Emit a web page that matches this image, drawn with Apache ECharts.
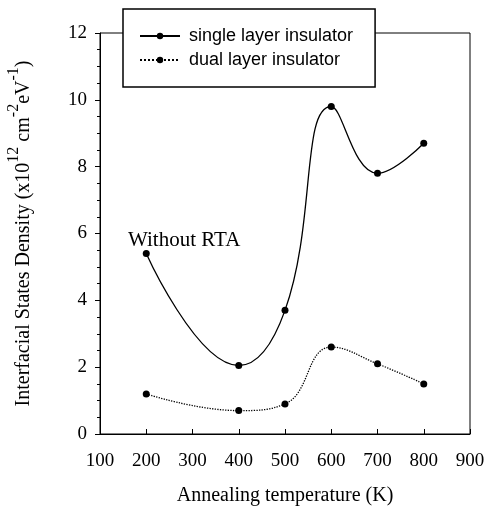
<!DOCTYPE html>
<html>
<head>
<meta charset="utf-8">
<script src="https://cdn.jsdelivr.net/npm/echarts@6/dist/echarts.min.js"></script>
<style>html,body{margin:0;padding:0;background:#fff}#c{width:487px;height:518px}</style>
</head>
<body>
<div id="c"></div>
<script>
const temperatures = [200, 400, 500, 600, 700, 800];
const singleLayer = [5.4, 2.05, 3.7, 9.8, 7.8, 8.7];
const dualLayer = [1.2, 0.7, 0.9, 2.6, 2.1, 1.5];
const seriesNames = ['single layer insulator', 'dual layer insulator'];
const annotation = 'Without RTA';

const chart = echarts.init(document.getElementById('c'));
const serif = '"Liberation Serif", "Times New Roman", serif';
chart.setOption({
  animation: false,
  backgroundColor: '#fff',
  grid: { left: 100, right: 17, top: 33, bottom: 84, show: true, borderColor: '#000', borderWidth: 1, containLabel: false, outerBoundsMode: 'none' },
  legend: {
    left: 123, top: 9,
    orient: 'vertical',
    backgroundColor: '#fff', borderColor: '#000', borderWidth: 1.5,
    padding: [18, 22, 18, 16],
    itemGap: 6, itemWidth: 40, itemHeight: 8,
    textStyle: { fontFamily: '"Liberation Sans", Arial, sans-serif', fontSize: 18, color: '#000', padding: [0, 0, 0, 4] },
    data: seriesNames
  },
  xAxis: {
    type: 'value', min: 100, max: 900, interval: 100,
    name: 'Annealing temperature (K)', nameLocation: 'middle', nameGap: 52,
    nameTextStyle: { fontFamily: serif, fontSize: 20, color: '#000' },
    axisLine: { lineStyle: { color: '#000' } },
    axisTick: { inside: true, length: 5, lineStyle: { color: '#000' } },
    axisLabel: { fontFamily: serif, fontSize: 19, color: '#000', margin: 18 },
    splitLine: { show: false }
  },
  yAxis: {
    type: 'value', min: 0, max: 12, interval: 2,
    name: '{n|Interfacial States Density (x10}{s|12}{n| cm}{s|-2}{n|eV}{s|-1}{n|)}',
    nameLocation: 'middle', nameGap: 66, nameRotate: 90,
    nameTextStyle: {
      rich: {
        n: { fontFamily: serif, fontSize: 20, color: '#000', verticalAlign: 'bottom', lineHeight: 28 },
        s: { fontFamily: serif, fontSize: 16, color: '#000', verticalAlign: 'top', lineHeight: 28, padding: [0, 0, 12, 0] }
      }
    },
    axisLine: { lineStyle: { color: '#000' } },
    axisTick: { length: 5, lineStyle: { color: '#000' } },
    minorTick: { show: true, splitNumber: 4, length: 3, lineStyle: { color: '#000' } },
    axisLabel: { fontFamily: serif, fontSize: 19, color: '#000', margin: 13 },
    splitLine: { show: false }
  },
  graphic: [{
    type: 'text', left: 128, top: 230,
    style: { text: annotation, font: '21px ' + serif, fill: '#000' }
  }],
  series: [
    {
      name: seriesNames[0], type: 'line', smooth: 0.45,
      data: temperatures.map((t, i) => [t, singleLayer[i]]),
      symbol: 'circle', symbolSize: 7,
      itemStyle: { color: '#000' },
      lineStyle: { color: '#000', width: 1.3, type: 'solid' }
    },
    {
      name: seriesNames[1], type: 'line', smooth: 0.45,
      data: temperatures.map((t, i) => [t, dualLayer[i]]),
      symbol: 'circle', symbolSize: 7,
      itemStyle: { color: '#000' },
      lineStyle: { color: '#000', width: 1.3, type: 'dotted' }
    }
  ]
});
</script>
</body>
</html>
